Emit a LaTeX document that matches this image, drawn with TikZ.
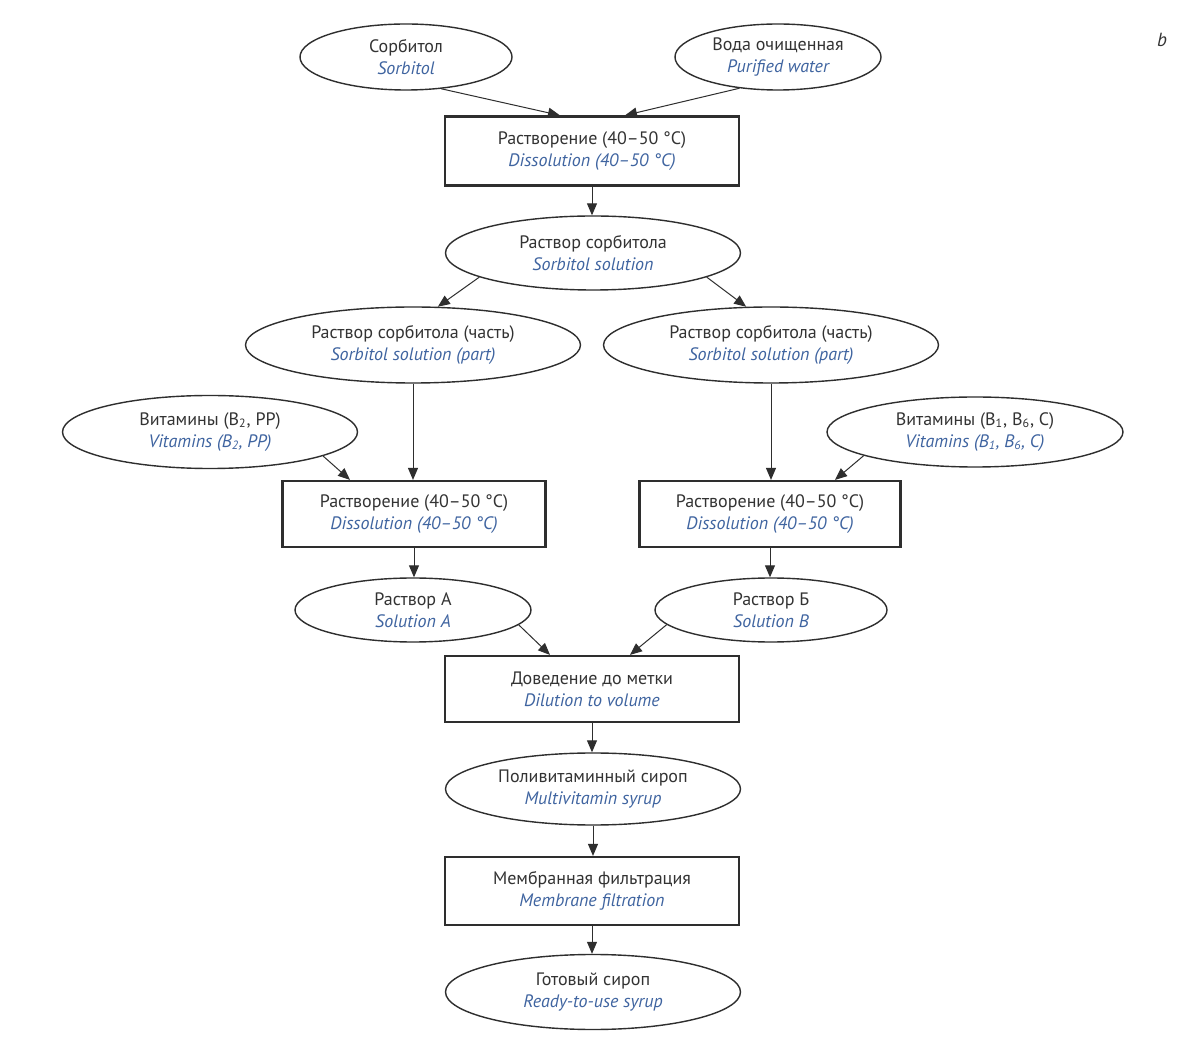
\documentclass[tikz,border=0pt]{standalone}
\usepackage{fontspec}
\setmainfont{PT Sans}
\usetikzlibrary{shapes.geometric,arrows.meta,calc}
\definecolor{txt}{HTML}{333333}
\definecolor{eng}{HTML}{3F64A0}
\definecolor{ln}{HTML}{2E2E2E}
\newcommand{\tl}[2]{{\color{txt}#1}\\{\color{eng}\itshape #2}}
\tikzset{
  ell/.style={ellipse, draw=ln, line width=0.7pt, inner sep=0pt, align=center, font=\fontsize{9}{11}\selectfont},
  box/.style={rectangle, draw=ln, line width=1.1pt, inner sep=0pt, align=center, font=\fontsize{9}{11}\selectfont},
  arr/.style={draw=ln, line width=0.5pt, -{Triangle[length=6pt,width=5pt]}}
}
\begin{document}
\begin{tikzpicture}[x=0.5pt,y=-0.5pt]
\useasboundingbox (0,0) rectangle (1200,1047);
\fill[white] (0,0) rectangle (1200,1047);
\node[ell, minimum width=106pt, minimum height=33pt] (sorb) at (406,57) {\tl{Сорбитол}{Sorbitol}};
\node[ell, minimum width=103pt, minimum height=33pt] (water) at (778,57) {\tl{Вода очищенная}{Purified water}};
\node[box, minimum width=147pt, minimum height=34.5pt] (dis1) at (592,151) {\tl{Растворение (40–50 °C)}{Dissolution (40–50 °C)}};
\node[ell, minimum width=147.5pt, minimum height=37pt] (ssol) at (593,253) {\tl{Раствор сорбитола}{Sorbitol solution}};
\node[ell, minimum width=167.5pt, minimum height=38pt] (lpart) at (413,345) {\tl{Раствор сорбитола (часть)}{Sorbitol solution (part)}};
\node[ell, minimum width=167.5pt, minimum height=38pt] (rpart) at (771,345) {\tl{Раствор сорбитола (часть)}{Sorbitol solution (part)}};
\node[ell, minimum width=147.5pt, minimum height=36.5pt] (vitl) at (210,432) {\tl{Витамины (B\textsubscript{2}, PP)}{Vitamins (B\textsubscript{2}, PP)}};
\node[ell, minimum width=148pt, minimum height=35pt] (vitr) at (975,432) {\tl{Витамины (B\textsubscript{1}, B\textsubscript{6}, C)}{Vitamins (B\textsubscript{1}, B\textsubscript{6}, C)}};
\node[box, minimum width=131.5pt, minimum height=33pt] (disl) at (414,514) {\tl{Растворение (40–50 °C)}{Dissolution (40–50 °C)}};
\node[box, minimum width=130.5pt, minimum height=33pt] (disr) at (770,514) {\tl{Растворение (40–50 °C)}{Dissolution (40–50 °C)}};
\node[ell, minimum width=118pt, minimum height=32pt] (sola) at (413,610) {\tl{Раствор А}{Solution A}};
\node[ell, minimum width=116pt, minimum height=32pt] (solb) at (771,610) {\tl{Раствор Б}{Solution B}};
\node[box, minimum width=147pt, minimum height=33pt] (dil) at (592,689) {\tl{Доведение до метки}{Dilution to volume}};
\node[ell, minimum width=147.5pt, minimum height=36pt] (multi) at (593,789) {\tl{Поливитаминный сироп}{Multivitamin syrup}};
\node[box, minimum width=147pt, minimum height=34pt] (memb) at (592,891) {\tl{Мембранная фильтрация}{Membrane filtration}};
\node[ell, minimum width=147.5pt, minimum height=37.5pt] (ready) at (593,992) {\tl{Готовый сироп}{Ready-to-use syrup}};
\node[font=\fontsize{9.5}{11}\selectfont\itshape, text=txt] (lbl) at (1162,40) {b};

\draw[arr] (sorb.-42) -- ($(dis1.north)+(-32,0)$);
\draw[arr] (water.-141) -- ($(dis1.north)+(33,0)$);
\draw[arr] (dis1.south) -- (dis1.south |- ssol.north);
\draw[arr] (ssol.-168) -- (lpart.57);
\draw[arr] (ssol.-12) -- (rpart.123);
\draw[arr] (lpart.south) -- (lpart.south |- disl.north);
\draw[arr] (rpart.south) -- (rpart.south |- disr.north);
\draw[arr] (vitl.-12) -- ($(disl.north)+(-64,0)$);
\draw[arr] (vitr.-168) -- ($(disr.north)+(65,0)$);
\draw[arr] (disl.south) -- (disl.south |- sola.north);
\draw[arr] (disr.south) -- (disr.south |- solb.north);
\draw[arr] (sola.-8) -- ($(dil.north)+(-42,0)$);
\draw[arr] (solb.-172) -- ($(dil.north)+(38,0)$);
\draw[arr] (dil.south) -- (dil.south |- multi.north);
\draw[arr] (multi.south) -- (multi.south |- memb.north);
\draw[arr] (memb.south) -- (memb.south |- ready.north);
\end{tikzpicture}
\end{document}
